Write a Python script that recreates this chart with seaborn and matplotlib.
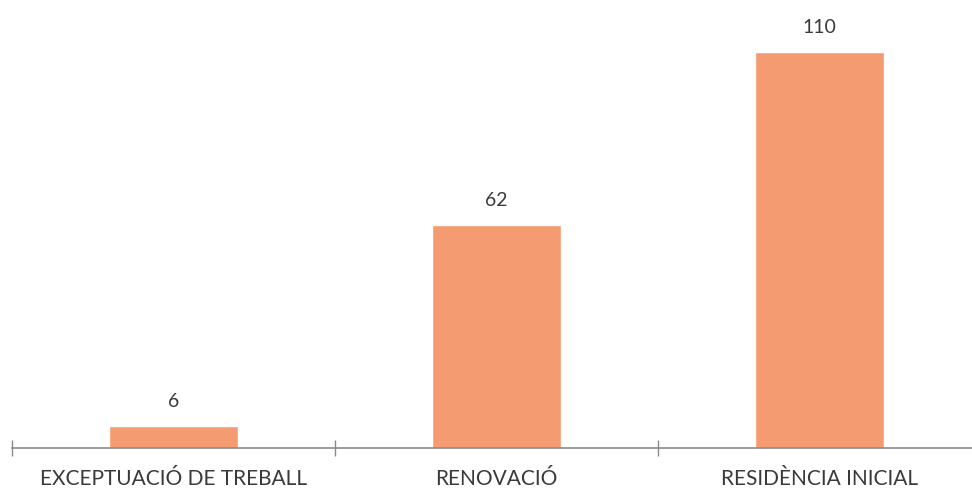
import matplotlib
matplotlib.use("Agg")
import matplotlib.pyplot as plt
import seaborn as sns
import pandas as pd

# Dades
categories = ["EXCEPTUACIÓ DE TREBALL", "RENOVACIÓ", "RESIDÈNCIA INICIAL"]
values = [6, 62, 110]

df = pd.DataFrame({"Tipus": categories, "Valor": values})

sns.set_style("white")
plt.rcParams['font.family'] = ['Lato', 'DejaVu Sans']

fig = plt.figure(figsize=(9.72, 4.92), dpi=100)
ax = fig.add_axes([12 / 972, 44 / 492, 969 / 972, 432 / 492])

sns.barplot(data=df, x="Tipus", y="Valor", color="#F49B72", width=0.4,
            saturation=1, ax=ax)

# Etiquetes de valor
for i, v in enumerate(values):
    ax.text(i, v + 4.5, str(v), ha="center", va="bottom", fontsize=14, color="#3a3a3a")

ax.set_xlim(-0.5, 2.5)
ax.set_ylim(0, 120)
ax.set_xlabel("")
ax.set_ylabel("")
ax.set_yticks([])
for s in ["top", "right", "left"]:
    ax.spines[s].set_visible(False)
ax.spines["bottom"].set_color("#8a8a8a")
ax.spines["bottom"].set_linewidth(1.2)

ax.set_xticks([0, 1, 2])
ax.set_xticklabels(categories, fontsize=15, color="#3a3a3a")
ax.tick_params(axis="x", which="major", bottom=False, length=0, pad=15)
ax.set_xticks([-0.5, 0.5, 1.5], minor=True)
ax.tick_params(axis="x", which="minor", bottom=True, length=12, width=1,
               color="#8a8a8a", direction="inout")

fig.savefig("out.png", dpi=100)
